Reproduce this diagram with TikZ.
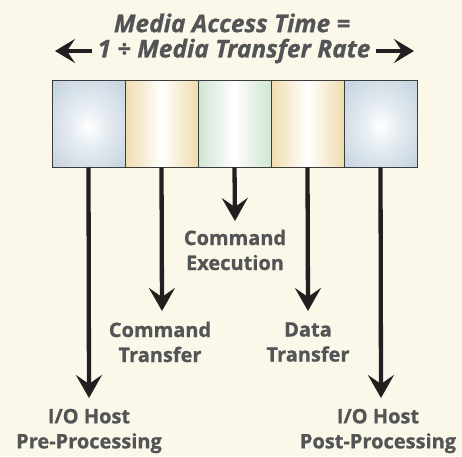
\documentclass[tikz,border=0pt]{standalone}
\usepackage{fontspec}
\setmainfont{Open Sans}[BoldFeatures={FakeBold=0.8},BoldItalicFeatures={FakeBold=0.8}]
\usetikzlibrary{arrows.meta}
\definecolor{bg}{HTML}{FCF8E9}
\definecolor{txt}{HTML}{535456}
\definecolor{ink}{HTML}{231F20}
\definecolor{bluegray}{HTML}{C8D6E2}
\definecolor{tan}{HTML}{EFDCAC}
\definecolor{mint}{HTML}{CFE5D2}
\definecolor{edge}{HTML}{3C3C3C}
\pgfdeclareradialshading{blueglow}{\pgfpoint{0bp}{-2bp}}{%
  color(0bp)=(white); color(12bp)=(white!55!bluegray); color(32bp)=(bluegray); color(50bp)=(bluegray)}
\begin{document}
\begin{tikzpicture}[x=1pt,y=-1pt,
  lbl/.style={text=txt,font=\fontsize{20}{25}\selectfont\bfseries,align=center,inner sep=0pt},
  ttl/.style={text=txt,font=\fontsize{24.5}{28}\selectfont\bfseries\itshape,inner sep=0pt},
  cell/.style={draw=edge,line width=0.8pt,minimum width=73pt,minimum height=87pt,inner sep=0pt},
  radcell/.style={cell,shading=blueglow},
  bandcell/.style={cell,left color=#1,right color=#1,middle color=white},
  downarrow/.style={draw=ink,line width=4.3pt,-{Stealth[length=23pt,width=26pt,inset=9pt]}},
  sidearrow/.style={draw=ink,line width=4.3pt,-{Stealth[length=20pt,width=24pt,inset=8pt]}}]
\fill[bg] (0,0) rectangle (462,456);
\useasboundingbox (0,0) rectangle (462,456);

% title
\node[ttl] (t1) at (232,23) {Media Access Time =};
\node[ttl] (t2) at (234,51) {1 ÷ Media Transfer Rate};
\coordinate (la) at (55,51);
\coordinate (ra) at (414,51);
\draw[sidearrow] ([xshift=-5pt]t2.west) -- (la);
\draw[sidearrow] ([xshift=5pt]t2.east) -- (ra);

% cells
\node[radcell] (b1) at (88.5,123.5) {};
\node[bandcell=tan] (b2) at (161.5,123.5) {};
\node[bandcell=mint] (b3) at (234.5,123.5) {};
\node[bandcell=tan] (b4) at (307.5,123.5) {};
\node[radcell] (b5) at (380.5,123.5) {};

% labels
\node[lbl] (l3) at (235,250) {Command\\Execution};
\node[lbl] (l2) at (160,342) {Command\\Transfer};
\node[lbl] (l4) at (308,342) {Data\\Transfer};
\node[lbl] (l1) at (89,431) {I/O Host\\Pre-Processing};
\node[lbl] (l5) at (378,431) {I/O Host\\Post-Processing};

% arrow tips
\coordinate (e1) at (89,398);
\coordinate (e2) at (162,311);
\coordinate (e3) at (235,221);
\coordinate (e4) at (308,311);
\coordinate (e5) at (381,398);

\draw[downarrow] (b1.south) -- (e1);
\draw[downarrow] (b2.south) -- (e2);
\draw[downarrow] (b3.south) -- (e3);
\draw[downarrow] (b4.south) -- (e4);
\draw[downarrow] (b5.south) -- (e5);
\end{tikzpicture}
\end{document}
